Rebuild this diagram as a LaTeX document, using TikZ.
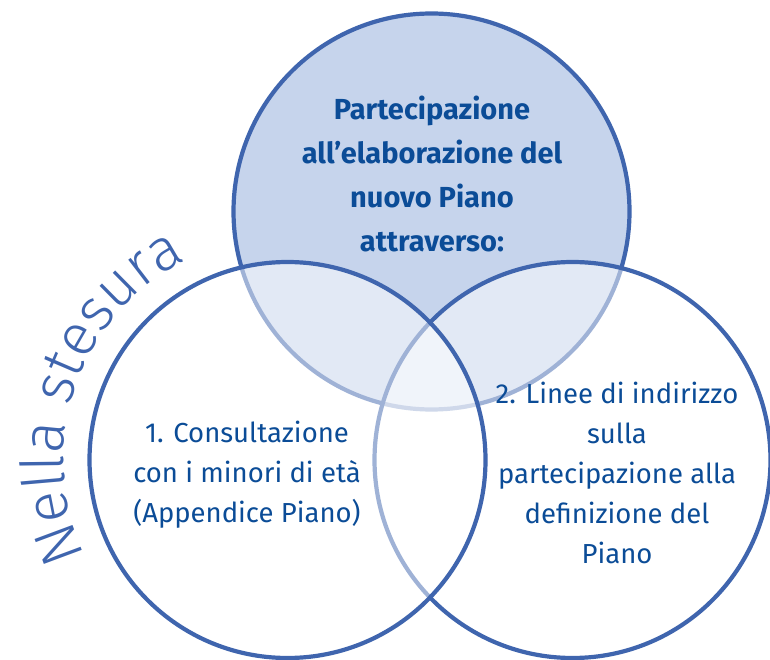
\documentclass[tikz,border=0pt]{standalone}
\usepackage{fontspec}
\setmainfont{Fira Sans}
\newfontfamily\thinfont{Fira Sans Light}
\usetikzlibrary{decorations.text}
\definecolor{strokeblue}{HTML}{3F65AE}
\definecolor{textblue}{HTML}{0B4C97}
\definecolor{topfill}{HTML}{C6D4EC}
\tikzset{
  ring/.style={circle, draw=strokeblue, line width=4.2pt, minimum size=396pt, inner sep=0pt},
  veil/.style={ring, fill=white, fill opacity=0.5},
  label/.style={text=textblue, align=center, font=\fontsize{27.5}{40}\selectfont},
  title/.style={text=textblue, align=center, font=\bfseries\fontsize{29}{44}\selectfont}
}
\begin{document}
\begin{tikzpicture}[x=1pt,y=1pt]
\useasboundingbox (0,0) rectangle (770,659);
\node[ring, fill=topfill] (top) at (431.5,447.5) {};
\node[veil] (right) at (572.5,199) {};
\node[veil] (left) at (287.5,199) {};
\node[title] (ttl) at (432,485) {Partecipazione\\all’elaborazione del\\nuovo Piano\\attraverso:};
\node[label] (l1) at (247,184) {1. Consultazione\\con i minori di età\\(Appendice Piano)};
\node[label] (l2) at (617,186) {2. Linee di indirizzo\\sulla\\partecipazione alla\\definizione del\\Piano};
\path[decorate, decoration={text along path, text align=center,
  text={|\thinfont\fontsize{59}{66}\selectfont\color{strokeblue}|Nella stesura}}]
  (left.center) ++(205:224) arc[start angle=205, end angle=117, radius=224];
\end{tikzpicture}
\end{document}
